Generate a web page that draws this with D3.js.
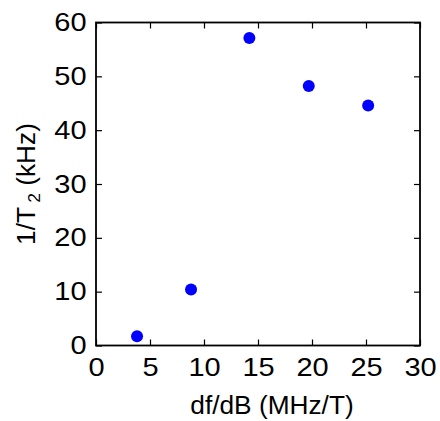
<!DOCTYPE html>
<html>
<head>
<meta charset="utf-8">
<script src="https://cdn.jsdelivr.net/npm/d3@7/dist/d3.min.js"></script>
<style>
  html, body { margin: 0; padding: 0; background: #fff; }
  svg { display: block; }
  text { font-family: "Liberation Sans", Arial, Helvetica, sans-serif; fill: #000; }
</style>
</head>
<body>
<svg id="chart" width="440" height="421"></svg>
<script>
const xValues = [3.8, 8.8, 14.2, 19.7, 25.2];
const yValues = [1.7, 10.4, 57.1, 48.2, 44.6];
const xTicks = [0, 5, 10, 15, 20, 25, 30];
const yTicks = [0, 10, 20, 30, 40, 50, 60];
const xLabel = "df/dB (MHz/T)";
const yLabelMain = "1/T";
const yLabelSub = "2";
const yLabelUnit = " (kHz)";

(function () {
const svg = d3.select("#chart");
const pLeft = 96, pRight = 420, pTop = 22.5, pBottom = 345.5;
const tfs = 25, lfs = 25.5;
const tsx = 1.16; // horizontal widening of tick glyphs to match reference face
const lsx = 1.03;

const x = d3.scaleLinear().domain([0, 30]).range([pLeft, pRight]);
const y = d3.scaleLinear().domain([0, 60]).range([pBottom, pTop]);

const tickLen = 6;
const g = svg.append("g");

const xAxis = d3.axisBottom(x).tickValues(xTicks).tickSizeInner(-tickLen).tickSizeOuter(0).tickPadding(12.5);
const gx = g.append("g").attr("transform", `translate(0,${pBottom})`).call(xAxis);

const xAxisTop = d3.axisTop(x).tickValues(xTicks).tickSizeInner(-tickLen).tickSizeOuter(0).tickFormat("");
g.append("g").attr("transform", `translate(0,${pTop})`).call(xAxisTop);

const yAxis = d3.axisLeft(y).tickValues(yTicks).tickSizeInner(-tickLen).tickSizeOuter(0).tickPadding(10);
const gy = g.append("g").attr("transform", `translate(${pLeft},0)`).call(yAxis);

const yAxisRight = d3.axisRight(y).tickValues(yTicks).tickSizeInner(-tickLen).tickSizeOuter(0).tickFormat("");
g.append("g").attr("transform", `translate(${pRight},0)`).call(yAxisRight);

svg.selectAll(".domain").remove();
svg.selectAll(".tick line").attr("stroke", "#000").attr("stroke-width", 1.2);
g.selectAll("g").attr("font-family", null).attr("font-size", null);
g.selectAll(".tick text").style("font-size", tfs + "px");

gx.selectAll(".tick text").attr("transform", `scale(${tsx},1)`);
gy.selectAll(".tick text")
  .attr("x", -9.5 / tsx)
  .attr("transform", `scale(${tsx},1)`);

svg.append("rect")
  .attr("x", pLeft).attr("y", pTop)
  .attr("width", pRight - pLeft).attr("height", pBottom - pTop)
  .attr("fill", "none").attr("stroke", "#000").attr("stroke-width", 1.8);

svg.append("g").selectAll("circle")
  .data(xValues.map((v, i) => [v, yValues[i]]))
  .join("circle")
  .attr("cx", d => x(d[0]))
  .attr("cy", d => y(d[1]))
  .attr("r", 6)
  .attr("fill", "#0000ff");

svg.append("text")
  .attr("transform", `translate(272,414) scale(${lsx},1)`)
  .attr("text-anchor", "middle")
  .style("font-size", lfs + "px")
  .text(xLabel);

const yl = svg.append("text")
  .attr("transform", `translate(34.5,${(pTop + pBottom) / 2}) rotate(-90) scale(${lsx},1)`)
  .attr("text-anchor", "middle")
  .style("font-size", lfs + "px");
yl.append("tspan").text(yLabelMain);
yl.append("tspan").attr("dx", 4).attr("dy", 5).style("font-size", "17px").text(yLabelSub);
yl.append("tspan").attr("dy", -5).text(yLabelUnit);
})();
</script>
</body>
</html>
